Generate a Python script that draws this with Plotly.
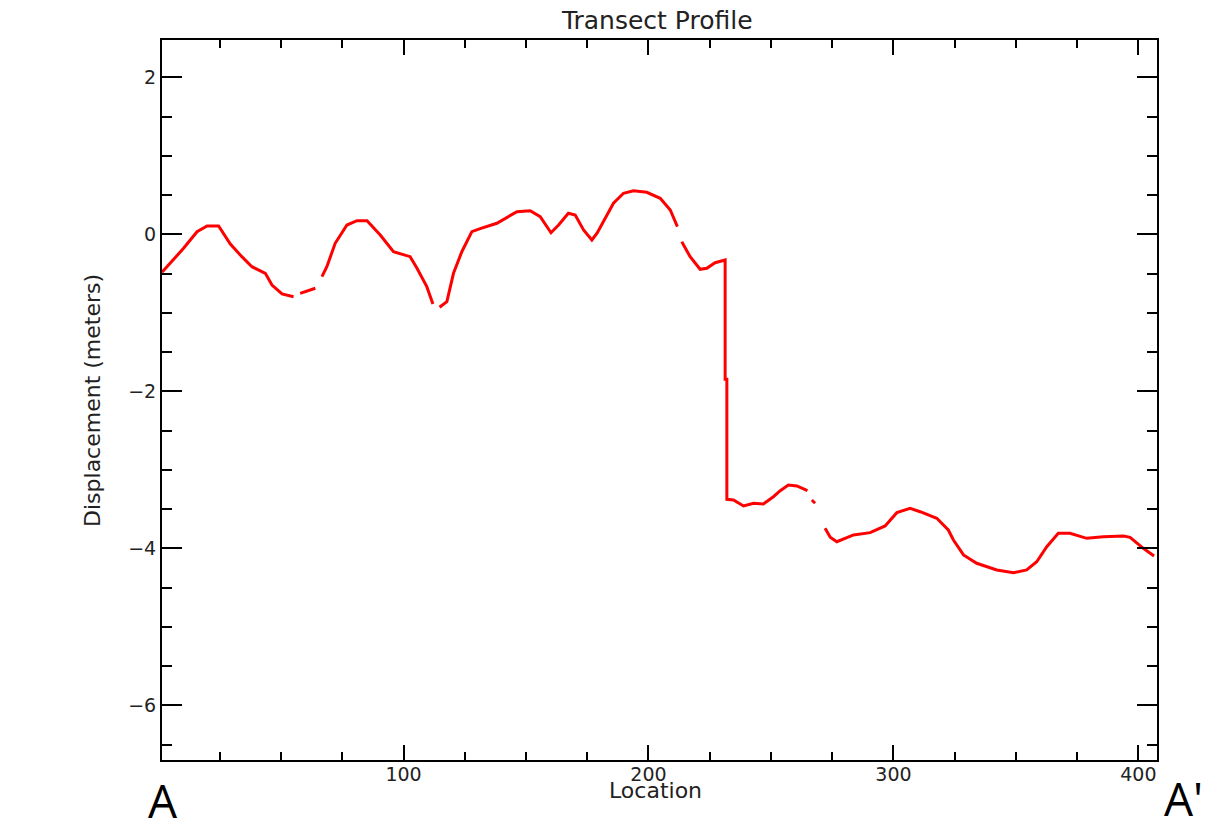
import plotly.graph_objects as go

# Transect profile values (None = data gap)
location = [1.4, 10.2, 15.7, 19.8, 24.5, 29.3, 34.0, 38.1, 43.6, 46.3, 50.4, 55.1, None,
            57.8, 64.0, None,
            66.7, 68.7, 72.1, 76.9, 81.0, 85.1, 90.5, 95.9, 102.7, 105.5, 109.5, 112.0, None,
            114.7, 117.7, 120.4, 123.8, 127.9, 131.3, 138.1, 146.3, 151.7, 155.8, 160.2, 163.3,
            167.3, 170.1, 173.5, 176.9, 179.0, 182.3, 185.7, 189.8, 193.9, 199.3, 204.8, 208.9,
            211.8, None,
            213.6, 217.0, 221.1, 223.8, 227.2, 231.3, 231.3, 232.0, 232.0, 234.7, 238.8, 242.9,
            246.9, 251.0, 253.8, 257.1, 260.6, 264.9, None,
            266.7, 268.0, None,
            272.1, 274.2, 276.9, 283.7, 290.5, 296.6, 301.4, 306.8, 310.9, 317.7, 322.4, 324.5,
            328.6, 334.0, 342.2, 349.0, 354.4, 358.5, 362.6, 367.3, 372.1, 378.9, 385.7, 393.9,
            396.6, 402.0, 406.4]
displacement = [-0.484, -0.178, 0.033, 0.106, 0.106, -0.124, -0.285, -0.413, -0.497, -0.646, -0.76, -0.795, None,
                -0.752, -0.688, None,
                -0.54, -0.413, -0.115, 0.118, 0.173, 0.173, -0.009, -0.222, -0.285, -0.433, -0.667, -0.888, None,
                -0.93, -0.858, -0.497, -0.222, 0.033, 0.072, 0.14, 0.288, 0.3, 0.224, 0.02, 0.118,
                0.268, 0.246, 0.055, -0.073, 0.013, 0.204, 0.395, 0.522, 0.555, 0.535, 0.459, 0.31,
                0.097, None,
                -0.094, -0.285, -0.446, -0.433, -0.362, -0.327, -1.847, -1.847, -3.376, -3.385, -3.461, -3.427,
                -3.436, -3.343, -3.266, -3.194, -3.206, -3.266, None,
                -3.385, -3.427, None,
                -3.745, -3.86, -3.916, -3.83, -3.801, -3.716, -3.546, -3.49, -3.534, -3.618, -3.767, -3.894,
                -4.085, -4.191, -4.276, -4.311, -4.276, -4.171, -3.98, -3.809, -3.809, -3.873, -3.852, -3.843,
                -3.86, -4.0, -4.098]

x_tick_vals = [100, 200, 300, 400]
y_tick_vals = [-6, -4, -2, 0, 2]
y_tick_text = ["\u22126", "\u22124", "\u22122", "0", "2"]

font_main = "DejaVu Sans"
txt_color = "#222"

fig = go.Figure()
fig.add_trace(go.Scatter(x=location, y=displacement, mode="lines",
                         line=dict(color="#ff0000", width=3),
                         connectgaps=False, showlegend=False))

fig.update_layout(
    width=1231, height=823,
    margin=dict(l=162, r=74, t=40, b=63),
    paper_bgcolor="white", plot_bgcolor="white",
    title=dict(text="Transect Profile", x=0.5339, xanchor="center", y=0.975, yanchor="middle",
               font=dict(family=font_main, size=25, color=txt_color)),
    font=dict(family=font_main, size=19, color=txt_color),
)
fig.update_xaxes(
    range=[1.4, 407.6], showgrid=False, zeroline=False,
    showline=True, linecolor="black", linewidth=2, mirror="allticks",
    ticks="inside", ticklen=15, tickwidth=2, tickcolor="black",
    tickvals=x_tick_vals, tickfont=dict(family=font_main, size=19, color=txt_color),
    ticklabelstandoff=-4,
    minor=dict(dtick=25, tick0=0, ticks="inside", ticklen=8, tickwidth=2, tickcolor="black"),
)
fig.update_yaxes(
    range=[-6.697, 2.475], showgrid=False, zeroline=False,
    showline=True, linecolor="black", linewidth=2, mirror="allticks",
    ticks="inside", ticklen=20, tickwidth=2, tickcolor="black",
    tickvals=y_tick_vals, ticktext=y_tick_text,
    tickfont=dict(family=font_main, size=19, color=txt_color),
    minor=dict(dtick=0.5, tick0=0, ticks="inside", ticklen=10, tickwidth=2, tickcolor="black"),
)
# axis titles as annotations for exact placement
fig.add_annotation(text="Location", xref="paper", yref="paper", x=0.496, y=-0.043,
                   xanchor="center", yanchor="middle", showarrow=False,
                   font=dict(family=font_main, size=22, color=txt_color))
fig.add_annotation(text="Displacement (meters)", xref="paper", yref="paper", x=-0.0704, y=0.5,
                   xanchor="center", yanchor="middle", showarrow=False, textangle=-90,
                   font=dict(family=font_main, size=22, color=txt_color))
# transect end labels
fig.add_annotation(text="A", xref="paper", yref="paper", x=0.001, y=-0.056,
                   xanchor="center", yanchor="middle", showarrow=False,
                   font=dict(family="Open Sans", size=46, color="black"))
fig.add_annotation(text="A'", xref="paper", yref="paper", x=1.027, y=-0.053,
                   xanchor="center", yanchor="middle", showarrow=False,
                   font=dict(family="Open Sans", size=46, color="black"))

fig.write_html("out.html")
